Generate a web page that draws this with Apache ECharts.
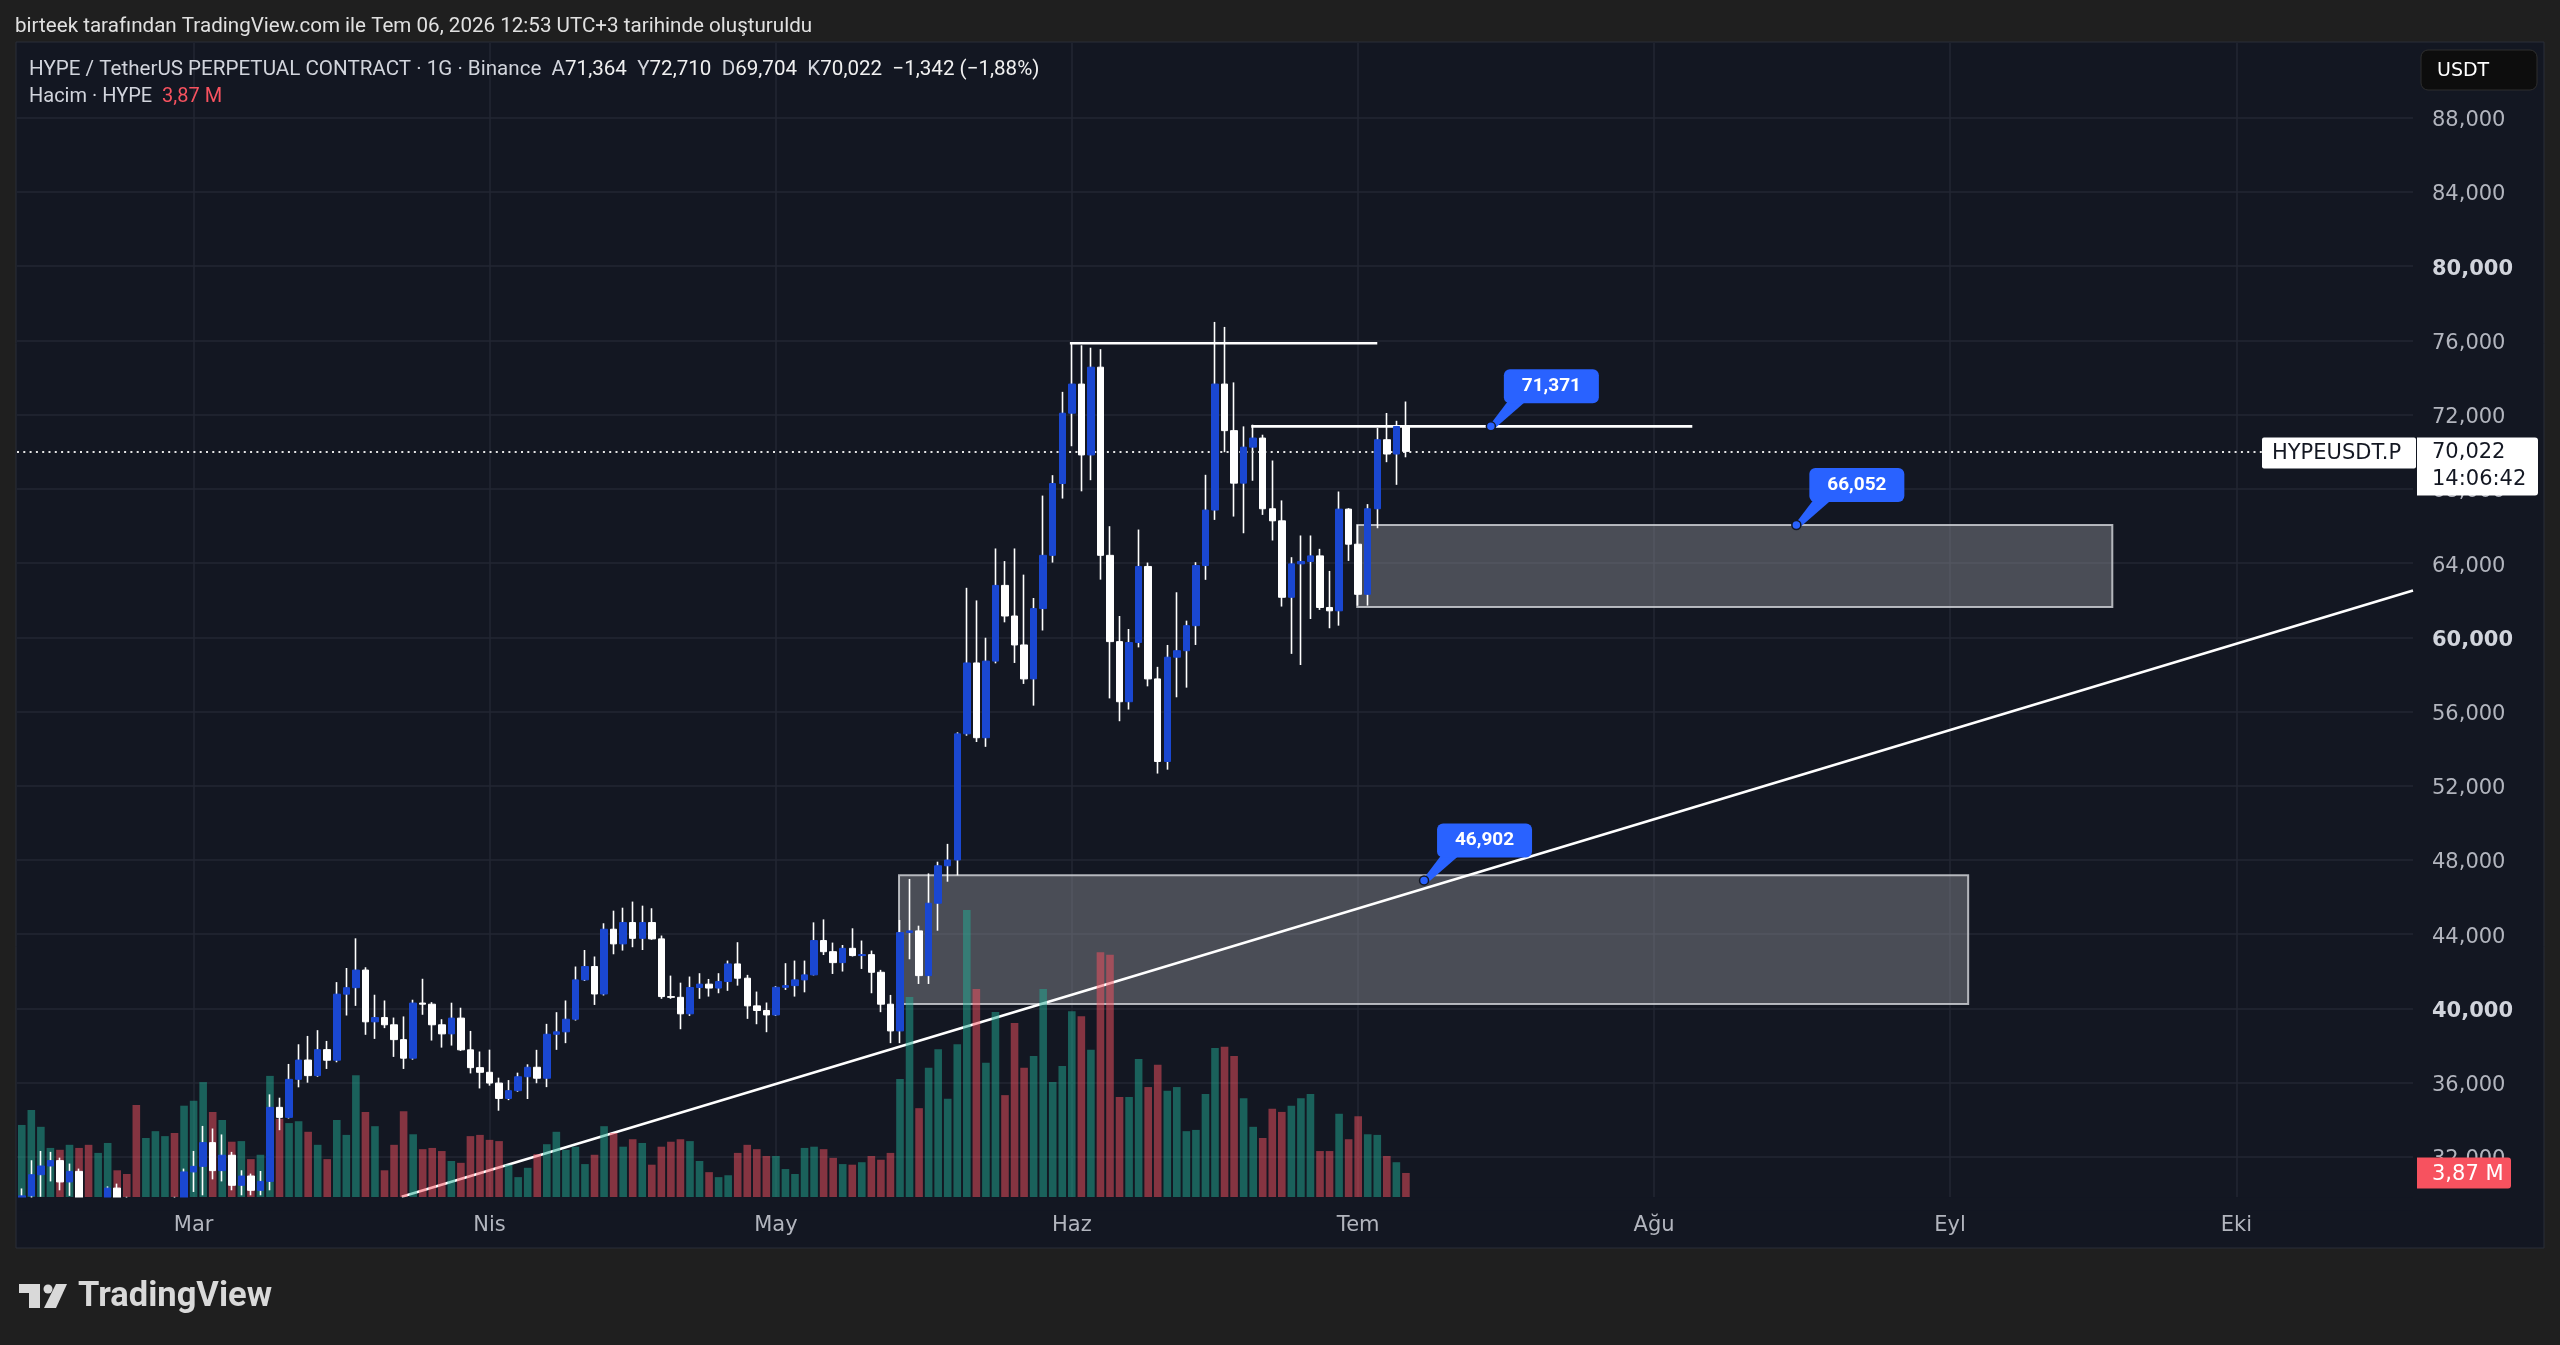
<!DOCTYPE html>
<html>
<head>
<meta charset="utf-8">
<script src="https://cdn.jsdelivr.net/npm/echarts@6/dist/echarts.min.js"></script>
<style>
  html, body { margin: 0; padding: 0; background: #1f1f1f; }
  #main { width: 2560px; height: 1345px; }
</style>
</head>
<body>
<div id="main"></div>
<script>
// daily candles, first one is 2026-02-11
var opens = [29650,29900,31040,31510,31800,30650,31220,29650,29450,29600,30320,29600,29500,29380,29450,29520,29600,29480,31190,31490,
  32770,31260,32090,30470,30970,30200,30680,34670,34130,36180,37220,36380,37780,37210,40770,41120,42070,39280,39510,39120,
  38320,37320,40290,40230,39120,38630,39480,37770,36810,36560,35980,35150,35570,36320,36830,36240,38610,38740,39420,41540,
  42260,40780,44270,43480,44630,43780,44630,43750,40640,40600,39710,41130,41310,41100,41450,42400,41630,40140,39890,39650,
  41140,41230,41540,41810,43660,43060,42470,43240,42850,42900,41950,40230,38790,44090,44180,41770,45670,47690,48000,54800,
  58620,54590,58720,62800,61150,59590,57760,61550,64420,68290,72080,73650,69830,74560,64420,59770,56530,59720,63820,57760,
  53310,58930,59280,60630,63870,66860,73650,71140,68310,70250,70740,66930,66280,62160,63960,64090,64390,61610,61430,66910,
  65020,62320,66930,70650,69880,71364];
var closes = [29900,31040,31510,31800,30650,31220,29650,29450,29600,30320,29600,29500,29380,29450,29520,29600,29480,31190,31490,32770,
  31260,32090,30470,30970,30200,30680,34670,34130,36180,37220,36380,37780,37210,40770,41120,42070,39280,39510,39120,38320,
  37320,40290,40230,39120,38630,39480,37770,36810,36560,35980,35150,35570,36320,36830,36240,38610,38740,39420,41540,42260,
  40780,44270,43480,44630,43780,44630,43750,40640,40600,39710,41130,41310,41100,41450,42400,41630,40140,39890,39650,41140,
  41230,41540,41810,43660,43060,42470,43240,42850,42900,41950,40230,38790,44090,44180,41770,45670,47690,48000,54800,58620,
  54590,58720,62800,61150,59590,57760,61550,64420,68290,72080,73650,69830,74560,64420,59770,56530,59720,63820,57760,53310,
  58930,59280,60630,63870,66860,73650,71140,68310,70250,70740,66930,66280,62160,63960,64090,64390,61610,61430,66910,65020,
  62320,66930,70650,69880,71364,70022];
var lows = [29550,29600,29850,30680,30200,29900,29400,29350,29380,29400,29400,29380,29350,29350,29380,29420,29400,29400,30110,29930,
  30790,30680,30200,29930,29930,29930,30200,33440,34070,35750,36000,36320,36740,37100,39620,40140,38580,38360,38940,37390,
  36740,37240,39660,38270,37890,38000,37710,36500,35690,35840,34490,35060,35510,35120,35970,35760,37770,38130,39350,41480,
  40190,40700,42920,43120,43300,43150,43700,40520,40520,38880,39600,40520,40640,40820,40950,41230,39440,39150,38720,39600,
  41000,40640,40870,41780,42880,41860,41990,42800,42130,40820,39800,38130,38130,42650,41320,41320,44190,46830,47170,54700,
  54360,54100,58600,60810,58620,57490,56320,60370,64030,67480,70300,67870,68470,63110,56710,55480,56110,59460,57360,52660,
  52870,56770,57290,59590,63100,66330,69980,66510,65610,68440,66600,65220,61660,59110,58510,60990,61480,60490,60630,64120,
  61710,61710,65880,69440,68220,69704];
var highs = [30300,31820,32320,32270,31960,31640,31370,29750,29700,30410,30560,29850,29700,29650,29700,29760,29850,31370,32320,33670,
  33530,33210,32270,31280,31100,31240,35370,35190,37010,38070,38520,38830,38250,41420,42180,43780,42220,40740,40430,39510,
  39570,40470,41600,40340,39420,40310,40040,38790,37680,37780,36270,36140,36540,36990,37770,39170,39800,40430,42260,43150,
  42800,44590,45270,45430,45760,45540,45400,43930,41770,41390,41720,41900,41590,41900,42580,43570,41810,40910,40320,41200,
  42440,42580,42580,44640,44800,43550,43420,44320,43660,43120,42080,40730,44770,46980,44460,47280,47910,48870,54880,62670,
  61990,59980,64790,64110,64790,63380,62120,67640,68740,73230,75870,75740,75610,75530,65990,61150,60450,65810,64030,58410,
  59590,62430,60900,64050,68760,77000,76730,73740,71370,71460,70920,69530,67380,64320,65490,65490,64770,63580,67860,66960,
  66060,67180,71280,72090,71670,72710];
// volume in millions
var volumes = [11.6,14.0,11.3,7.9,7.6,8.4,7.9,8.4,7.1,8.7,4.3,3.7,14.8,9.5,10.6,9.8,10.3,14.7,15.5,18.5,
  13.7,12.4,8.9,9.0,6.1,6.8,19.5,12.6,11.9,12.2,10.5,8.4,6.1,12.4,10.0,19.6,13.7,11.4,4.3,8.4,
  13.8,10.1,7.7,7.9,7.4,5.8,5.5,9.8,10.0,9.2,9.0,5.2,3.2,4.7,6.9,8.5,10.5,7.6,8.1,5.3,
  6.8,11.4,10.3,8.1,9.3,8.7,5.2,8.1,8.9,9.3,9.0,5.8,4.0,3.2,3.5,7.1,8.4,7.7,6.6,6.6,
  4.5,3.7,7.9,8.1,7.7,6.3,5.3,5.2,5.6,6.6,6.0,7.1,19.0,32.2,14.3,20.8,23.8,15.8,24.6,46.2,
  33.5,21.6,29.8,16.4,28.0,20.8,22.7,33.5,18.5,21.1,29.9,29.1,23.7,39.4,39.0,16.1,16.1,22.2,17.7,21.3,
  17.1,17.7,10.6,10.8,16.6,24.0,24.2,22.7,15.9,11.3,9.5,14.2,13.7,14.7,15.9,16.6,7.4,7.4,13.4,9.3,
  13.0,10.1,10.0,6.6,5.6,3.87];
var monthNames = ['Oca','Şub','Mar','Nis','May','Haz','Tem','Ağu','Eyl','Eki','Kas','Ara'];

// drawings, [day index, price]
var topLine = [[109.8, 75850], [142.0, 75850]];
var resistLine = [[128.8, 71371], [175.0, 71371]];
var trendLine = [[39.8, 29850], [250.5, 62530]];
var upperBox = [[139.9, 66052], [219.0, 61640]];
var lowerBox = [[91.9, 47175], [203.9, 40240]];
var callouts = [[153.9, 71371], [185.9, 66052], [146.9, 46902]];

var upColor = '#1a47d0';
var gridColor = '#232733';
var axisFont = 'DejaVu Sans';
var totalDays = 251;

function fmt(v) {
  return String(Math.abs(v)).replace(/\B(?=(\d{3})+(?!\d))/g, ',');
}

var days = [];
var start = Date.UTC(2026, 1, 11);
for (var i = 0; i < totalDays; i++) {
  days.push(new Date(start + i * 86400000).toISOString().slice(0, 10));
}
function isMonthStart(idx, v) { return v.slice(8) === '01'; }

var wicks = opens.map(function (o, i) { return [o, closes[i], lows[i], highs[i]]; });
var bodies = opens.map(function (o, i) {
  var c = closes[i];
  return [o, c, Math.min(o, c), Math.max(o, c)];
});
var volBars = volumes.map(function (v, i) {
  return { value: v, itemStyle: { color: closes[i] >= opens[i] ? 'rgba(34,171,148,0.5)' : 'rgba(247,82,95,0.5)' } };
});

var last = opens.length - 1;
var lastPrice = closes[last];

var chartDom = document.getElementById('main');
var myChart = echarts.init(chartDom);
var option = {
  backgroundColor: '#1f1f1f',
  animation: false,
  textStyle: { fontFamily: 'Roboto, sans-serif' },
  grid: [
    { left: 17, top: 43, width: 2396, height: 1154 },
    { left: 17, top: 117.8, width: 2396, height: 1039.1 },
    { left: 17, top: 887, width: 2396, height: 310 }
  ],
  xAxis: [
    {
      type: 'category', gridIndex: 0, data: days, boundaryGap: true,
      axisLine: { show: false }, axisTick: { show: false },
      axisLabel: {
        interval: isMonthStart,
        formatter: function (v) { return monthNames[+v.slice(5, 7) - 1]; },
        color: '#b2b5be', fontSize: 21, fontFamily: axisFont, margin: 18
      },
      splitLine: { show: true, alignWithLabel: true, interval: isMonthStart, lineStyle: { color: gridColor, width: 1.5 } }
    },
    { type: 'value', gridIndex: 0, min: -0.5, max: totalDays - 0.5, show: false },
    { type: 'category', gridIndex: 1, data: days, show: false },
    { type: 'category', gridIndex: 2, data: days, show: false }
  ],
  yAxis: [
    { type: 'value', gridIndex: 0, min: 29839, max: 92031, show: false },
    {
      type: 'value', gridIndex: 1, position: 'right', min: 32000, max: 88000, interval: 4000,
      axisLine: { show: false }, axisTick: { show: false },
      splitLine: { lineStyle: { color: gridColor, width: 1.5 } },
      axisLabel: {
        margin: 19,
        formatter: function (v) {
          return (v % 20000 === 0 ? '{b|' : '{n|') + fmt(v) + '}';
        },
        rich: {
          n: { color: '#b2b5be', fontSize: 21, fontFamily: axisFont, padding: [6, 0, 0, 0] },
          b: { color: '#d1d4dc', fontSize: 21, fontFamily: axisFont, fontWeight: 'bold', padding: [6, 0, 0, 0] }
        }
      }
    },
    { type: 'value', gridIndex: 2, min: 0, max: 49.91, show: false }
  ],
  series: [
    {
      type: 'line', xAxisIndex: 1, yAxisIndex: 0, data: [], z: 1, silent: true,
      markArea: {
        silent: true,
        itemStyle: { color: 'rgba(150,152,160,0.42)', borderColor: 'rgba(205,207,212,0.85)', borderWidth: 2 },
        data: [
          [{ coord: upperBox[0] }, { coord: upperBox[1] }],
          [{ coord: lowerBox[0] }, { coord: lowerBox[1] }]
        ]
      }
    },
    {
      type: 'line', xAxisIndex: 1, yAxisIndex: 0, data: trendLine, symbol: 'none', silent: true, z: 2,
      lineStyle: { color: '#ffffff', width: 2.6 }
    },
    {
      type: 'line', xAxisIndex: 1, yAxisIndex: 0, data: topLine, symbol: 'none', silent: true, z: 2,
      lineStyle: { color: '#ffffff', width: 2.6 }
    },
    {
      type: 'line', xAxisIndex: 1, yAxisIndex: 0, data: resistLine, symbol: 'none', silent: true, z: 2,
      lineStyle: { color: '#ffffff', width: 2.6 }
    },
    {
      type: 'bar', xAxisIndex: 3, yAxisIndex: 2, data: volBars, barWidth: 7.6, z: 3, silent: true
    },
    {
      type: 'candlestick', xAxisIndex: 0, yAxisIndex: 0, data: wicks, barWidth: 1, z: 4, silent: true, clip: true,
      itemStyle: { color: '#ffffff', color0: '#ffffff', borderColor: '#ffffff', borderColor0: '#ffffff', borderWidth: 1.6 }
    },
    {
      type: 'candlestick', xAxisIndex: 0, yAxisIndex: 0, data: bodies, barWidth: 7, z: 5, silent: true, clip: true,
      itemStyle: { color: upColor, color0: '#ffffff', borderColor: upColor, borderColor0: '#ffffff', borderWidth: 1 },
      markLine: {
        silent: true, symbol: ['none', 'none'], animation: false,
        label: { show: false },
        lineStyle: { color: '#e6e6e6', type: [2, 4.3], width: 2 },
        data: [{ yAxis: lastPrice }]
      }
    }
  ]
};
option && myChart.setOption(option);

// overlays that hang off the axes
var py = myChart.convertToPixel({ yAxisIndex: 0 }, lastPrice);
var vy = myChart.convertToPixel({ yAxisIndex: 2 }, volumes[last]);
var change = closes[last] - opens[last];
var pct = (change / opens[last] * 100).toFixed(2).replace('-', '').replace('.', ',');
var sign = change < 0 ? '−' : '+';
var volText = String(volumes[last]).replace('.', ',') + ' M';

var els = [
  { type: 'rect', z: -1, shape: { x: 16, y: 42, width: 2528, height: 1206 }, style: { fill: '#131722', stroke: '#2a2e39', lineWidth: 1 } },
  // mask for wicks that would leak into the time scale strip
  { type: 'rect', z: 9, shape: { x: 17, y: 1197.5, width: 2396, height: 13 }, style: { fill: '#131722' } },
  { type: 'text', z: 10, style: { x: 15, y: 27, text: 'birteek tarafından TradingView.com ile Tem 06, 2026 12:53 UTC+3 tarihinde oluşturuldu',
    fill: '#e0e0e0', fontSize: 20.6, fontFamily: 'Roboto', verticalAlign: 'middle' } },
  { type: 'text', z: 10, style: {
    x: 29, y: 70, verticalAlign: 'middle', fontSize: 20.6, fontFamily: 'Roboto', fill: '#d1d4dc',
    text: '{t|HYPE / TetherUS PERPETUAL CONTRACT · 1G · Binance}  {l|A}{v|' + fmt(opens[last]) + '}  {l|Y}{v|' + fmt(highs[last]) +
      '}  {l|D}{v|' + fmt(lows[last]) + '}  {l|K}{v|' + fmt(closes[last]) + '}  {v|' + sign + fmt(change) + ' (' + sign + pct + '%)}',
    rich: {
      t: { fill: '#d1d4dc', fontSize: 20.6, fontFamily: 'Roboto' },
      l: { fill: '#d1d4dc', fontSize: 20.6, fontFamily: 'Roboto' },
      v: { fill: '#f0f0f0', fontSize: 20.6, fontFamily: 'Roboto' }
    } } },
  { type: 'text', z: 10, style: {
    x: 29, y: 97, verticalAlign: 'middle', fontSize: 20, fontFamily: 'Roboto',
    text: '{a|Hacim · HYPE}  {r|' + volText + '}',
    rich: { a: { fill: '#d1d4dc', fontSize: 20, fontFamily: 'Roboto' }, r: { fill: '#f7525f', fontSize: 20, fontFamily: 'Roboto' } } } },
  // USDT button
  { type: 'rect', z: 10, shape: { x: 2421, y: 50, width: 116, height: 40, r: 7 }, style: { fill: '#0d0d0d', stroke: '#2e2e2e', lineWidth: 1 } },
  { type: 'text', z: 11, style: { x: 2437, y: 71, text: 'USDT', fill: '#ffffff', fontSize: 19, fontFamily: axisFont, verticalAlign: 'middle' } },
  // symbol + last price labels
  { type: 'rect', z: 10, shape: { x: 2262, y: py - 14, width: 154, height: 31, r: 2 }, style: { fill: '#ffffff' } },
  { type: 'text', z: 11, style: { x: 2272, y: py + 2.5, text: 'HYPEUSDT.P', fill: '#131722', fontSize: 21, fontFamily: axisFont, verticalAlign: 'middle' } },
  { type: 'rect', z: 10, shape: { x: 2417, y: py - 14, width: 121, height: 58, r: [0, 3, 3, 0] }, style: { fill: '#ffffff' } },
  { type: 'text', z: 11, style: { x: 2432, y: py + 1.5, text: fmt(lastPrice), fill: '#131722', fontSize: 21, fontFamily: axisFont, verticalAlign: 'middle' } },
  { type: 'text', z: 11, style: { x: 2432, y: py + 28.5, text: '14:06:42', fill: '#131722', fontSize: 21, fontFamily: axisFont, verticalAlign: 'middle' } },
  // volume label
  { type: 'rect', z: 10, shape: { x: 2417, y: vy - 15.5, width: 94, height: 31, r: [0, 3, 3, 0] }, style: { fill: '#f7525f' } },
  { type: 'text', z: 11, style: { x: 2432, y: vy + 1.5, text: volText, fill: '#ffffff', fontSize: 21, fontFamily: axisFont, verticalAlign: 'middle' } },
  // TradingView logo
  { type: 'polygon', z: 10, shape: { points: [[19, 1284], [40, 1284], [40, 1308], [29, 1308], [29, 1293], [19, 1293]] }, style: { fill: '#d9d9d9' } },
  { type: 'circle', z: 10, shape: { cx: 48, cy: 1289, r: 4.5 }, style: { fill: '#d9d9d9' } },
  { type: 'polygon', z: 10, shape: { points: [[56, 1284], [67, 1284], [56, 1308], [44, 1308]] }, style: { fill: '#d9d9d9' } },
  { type: 'text', z: 10, style: { x: 78, y: 1297, text: 'TradingView', fill: '#d9d9d9', fontSize: 34.5, fontWeight: 'bold', fontFamily: 'Roboto', verticalAlign: 'middle' } }
];

callouts.forEach(function (c) {
  var ax = myChart.convertToPixel({ xAxisIndex: 1 }, c[0]);
  var ay = myChart.convertToPixel({ yAxisIndex: 0 }, c[1]);
  els.push({ type: 'polygon', z: 12, shape: { points: [[ax - 2, ay], [ax + 17, ay - 25], [ax + 35, ay - 25], [ax + 4, ay + 2]] }, style: { fill: '#2962ff' } });
  els.push({ type: 'rect', z: 12, shape: { x: ax + 13, y: ay - 57, width: 95, height: 34, r: 6 }, style: { fill: '#2962ff' } });
  els.push({ type: 'circle', z: 13, shape: { cx: ax, cy: ay, r: 4.5 }, style: { fill: '#2962ff', stroke: '#131722', lineWidth: 1.5 } });
  els.push({ type: 'text', z: 13, style: { x: ax + 60.5, y: ay - 40, text: fmt(c[1]), fill: '#ffffff', fontSize: 19, fontWeight: 'bold',
    fontFamily: 'Roboto', align: 'center', verticalAlign: 'middle' } });
});

myChart.setOption({ graphic: { elements: els } });
</script>
</body>
</html>
